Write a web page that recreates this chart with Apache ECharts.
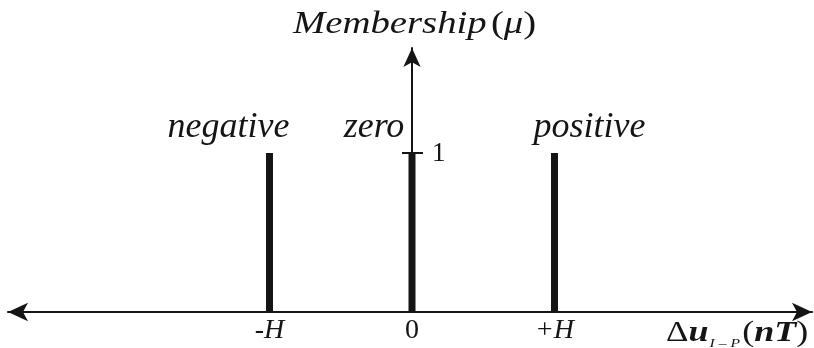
<!DOCTYPE html>
<html>
<head>
<meta charset="utf-8">
<script src="https://cdn.jsdelivr.net/npm/echarts@6/dist/echarts.min.js"></script>
<style>
  html, body { margin: 0; padding: 0; background: #ffffff; }
  #chart { width: 814px; height: 348px; }
</style>
</head>
<body>
<div id="chart"></div>
<script>
// Singleton fuzzy sets over the input deviation
const setNames = ['negative', 'zero', 'positive'];
const setCenters = [-1, 0, 1];          // -H, 0, +H (in units of H)
const membership = [1, 1, 1];

// Axis tick labels
const xTickValues = [-1, 0, 1];
const xTickLabels = ['-H', '0', '+H'];
const yTickValues = [1];
const yTickLabels = ['1'];

// Axis titles
const yAxisTitle = ['Membership', 'μ'];
const xAxisTitle = ['Δ', 'u', 'I – P', 'nT'];

const SERIF = 'Liberation Serif';
const INK = '#151515';

// label placement relative to the top of each spike
const labelOffsets = [[-41, -2], [-38, -2], [35, -2]];

const chart = echarts.init(document.getElementById('chart'), null, { renderer: 'canvas' });

const xMin = -2.835, xMax = 2.807, yMax = 1.66;

const barData = setCenters.map((c, i) => ({
  value: [c, membership[i]],
  name: setNames[i],
  label: { offset: labelOffsets[i] }
}));

const option = {
  backgroundColor: '#ffffff',
  animation: false,
  graphic: [
    {
      id: 'yTitle',
      type: 'text',
      x: 293,
      y: 9,
      scaleX: 1.25,
      style: {
        text: '{i|' + yAxisTitle[0] + '} {n|(}{i|' + yAxisTitle[1] + '}{n|)}',
        verticalAlign: 'top',
        rich: {
          i: { fontFamily: SERIF, fontStyle: 'italic', fontSize: 31, fill: INK },
          n: { fontFamily: SERIF, fontSize: 31, fill: INK }
        }
      }
    },
    {
      id: 'xTitle',
      type: 'text',
      x: 666,
      y: 317,
      scaleX: 1.2,
      style: {
        text: '{d|' + xAxisTitle[0] + '}{u|' + xAxisTitle[1] + '}{s|' + xAxisTitle[2] + '}{n|(}{u|' + xAxisTitle[3] + '}{n|)}',
        verticalAlign: 'top',
        rich: {
          d: { fontFamily: SERIF, fontSize: 29, fill: INK },
          u: { fontFamily: SERIF, fontStyle: 'italic', fontWeight: 'bold', fontSize: 30, fill: INK },
          s: { fontFamily: SERIF, fontStyle: 'italic', fontSize: 13, fill: INK, padding: [20, 2, 0, 1] },
          n: { fontFamily: SERIF, fontSize: 30, fill: INK }
        }
      }
    }
  ],
  grid: { left: 8, right: 2, top: 48, bottom: 36, containLabel: false, outerBoundsMode: 'none' },
  xAxis: [{
    type: 'value',
    min: xMin,
    max: xMax,
    splitLine: { show: false },
    axisLine: {
      show: true,
      onZero: true,
      symbol: ['arrow', 'arrow'],
      symbolSize: [14, 20],
      lineStyle: { color: INK, width: 2 }
    },
    axisTick: { show: false },
    axisLabel: {
      customValues: xTickValues,
      margin: 5,
      formatter: function (v) {
        const lbl = xTickLabels[xTickValues.indexOf(v)];
        return lbl === '0' ? '{n|' + lbl + '}' : '{i|' + lbl + '}';
      },
      rich: {
        i: { fontFamily: SERIF, fontStyle: 'italic', fontSize: 28, color: INK },
        n: { fontFamily: SERIF, fontSize: 28, color: INK }
      }
    }
  }],
  yAxis: [
    {
      type: 'value',
      min: 0,
      max: yMax,
      splitLine: { show: false },
      axisLine: {
        show: true,
        onZero: true,
        onZeroAxisIndex: 0,
        symbol: ['none', 'arrow'],
        symbolSize: [13, 19],
        lineStyle: { color: INK, width: 2 }
      },
      axisTick: { show: true, customValues: yTickValues, length: 10, lineStyle: { color: INK, width: 2 } },
      axisLabel: { show: false }
    },
    {
      // right-hand half of the tick that crosses the vertical axis
      type: 'value',
      min: 0,
      max: yMax,
      position: 'right',
      splitLine: { show: false },
      axisLine: { show: true, onZero: true, onZeroAxisIndex: 0, lineStyle: { color: INK, width: 2, opacity: 0 } },
      axisTick: { show: true, customValues: yTickValues, length: 11, lineStyle: { color: INK, width: 2 } },
      axisLabel: { show: false }
    }
  ],
  series: [{
    type: 'bar',
    xAxisIndex: 0,
    yAxisIndex: 0,
    barWidth: 7,
    itemStyle: { color: INK },
    label: {
      show: true,
      position: 'top',
      formatter: function (p) { return p.name; },
      fontFamily: SERIF,
      fontStyle: 'italic',
      fontSize: 36,
      color: INK
    },
    data: barData
  }]
};

chart.setOption(option);

// tick label for the vertical axis, placed beside the axis through the grid's scales
const yTickGraphics = yTickValues.map((v, i) => {
  const p = chart.convertToPixel({ gridIndex: 0 }, [0, v]);
  return {
    id: 'yTick' + i,
    type: 'text',
    x: p[0] + 20,
    y: p[1] + 1,
    style: {
      text: yTickLabels[i],
      verticalAlign: 'middle',
      fontFamily: SERIF,
      fontSize: 27,
      fill: INK
    }
  };
});
chart.setOption({ graphic: yTickGraphics });
</script>
</body>
</html>
